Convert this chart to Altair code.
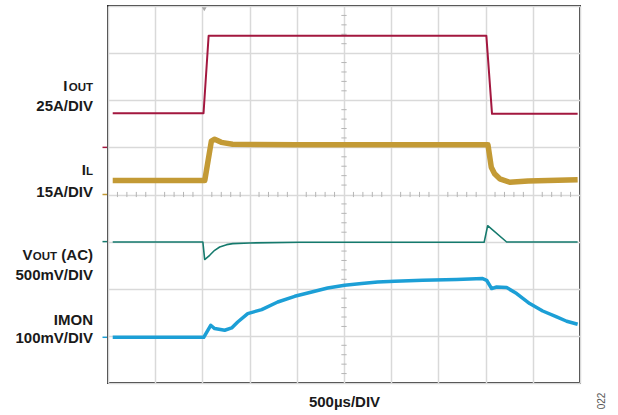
import altair as alt
import pandas as pd

FONT = "Liberation Sans"
INK = "#1a1a1a"

# Time axis: 500 µs per division, 10 divisions; vertical: 8 divisions
US_PER_DIV = 500
N_XDIV, N_YDIV = 10, 8

# I_OUT in A (25 A/div, ground marker at division 5)
iout_t = [50, 1012, 1066, 4008, 4068, 4975]
iout_v = [18.1, 18.1, 59.2, 59.2, 17.8, 17.8]

# I_L in A (15 A/div, ground marker at division 4)
il_t = [50, 1025, 1095, 1130, 1200, 1320, 2000, 4025, 4060, 4095, 4150, 4255, 4450, 4975]
il_v = [4.45, 4.45, 17.0, 17.6, 16.6, 16.0, 15.8, 15.8, 8.7, 6.6, 5.0, 3.9, 4.3, 4.7]

# V_OUT, AC coupled, in mV (500 mV/div, ground marker at division 3)
vout_t = [50, 1005, 1024, 1077, 1130, 1183, 1257, 1321, 1501, 2031, 3985, 4022, 4223, 4975]
vout_v = [-4, -4, -190, -145, -92, -57, -32, -21, -14, -7, -6, 169, -4, -4]

# IMON in mV (100 mV/div, ground marker at division 0.97)
imon_t = [50, 1014, 1088, 1130, 1236, 1310, 1374, 1480, 1628, 1798, 1978, 2158, 2327, 2507,
          2687, 2857, 3037, 3334, 3694, 3969, 4011, 4064, 4117, 4223, 4329, 4467, 4605, 4753,
          4859, 4975]
imon_v = [0, 0, 25.5, 18.5, 14.9, 19.8, 32.5, 50.3, 58.8, 74.9, 87.0, 96.2, 104.6, 110.4,
          114.0, 117.4, 118.9, 121.0, 122.5, 124.6, 121.0, 103.4, 106.8, 105.5, 92.8, 71.5,
          55.8, 43.1, 34.0, 27.6]

# name, times, values, units per division, ground division, colour, stroke width
traces = [
    ("IOUT", iout_t, iout_v, 25, 5.0, "#a3173f", 2.0),
    ("IL", il_t, il_v, 15, 4.0, "#c39a35", 5.5),
    ("VOUT", vout_t, vout_v, 500, 3.0, "#157a6d", 1.6),
    ("IMON", imon_t, imon_v, 100, 0.97, "#1c9fd6", 3.5),
]

trigger_us = 1020

xs = alt.Scale(domain=[0, US_PER_DIV * N_XDIV], nice=False, zero=False)
ys = alt.Scale(domain=[0, N_YDIV], nice=False, zero=False)
xaxis = alt.Axis(values=list(range(0, US_PER_DIV * N_XDIV + 1, US_PER_DIV)), grid=True,
                 labels=False, ticks=False, domain=False, title="500µs/DIV",
                 titleFont=FONT, titleFontSize=15, titleFontWeight="bold",
                 titleColor=INK, titlePadding=11)
yaxis = alt.Axis(values=list(range(0, N_YDIV + 1)), grid=True, labels=False, ticks=False,
                 domain=False, title=None)


def X(field):
    return alt.X(field, scale=xs, axis=xaxis)


def Y(field):
    return alt.Y(field, scale=ys, axis=yaxis)


layers = []

# Minor graticule ticks along the centre lines
hticks = pd.DataFrame({"t": [t for t in range(100, 5000, 100) if t % 500]})
hticks["y1"], hticks["y2"] = 4 - 0.055, 4 + 0.055
layers.append(alt.Chart(hticks).mark_rule(color="#b5b5b5", strokeWidth=1).encode(
    x=X("t:Q"), y=Y("y1:Q"), y2="y2:Q"))
vticks = pd.DataFrame({"d": [i / 5 for i in range(1, 40) if i % 5]})
vticks["x1"], vticks["x2"] = 2500 - 28, 2500 + 28
layers.append(alt.Chart(vticks).mark_rule(color="#b5b5b5", strokeWidth=1).encode(
    y=Y("d:Q"), x=X("x1:Q"), x2="x2:Q"))

# Waveforms
for name, t, v, per_div, ground, color, width in traces:
    df = pd.DataFrame({"t": t, "v": v})
    df["div"] = ground + df["v"] / per_div
    layers.append(alt.Chart(df).mark_line(color=color, strokeWidth=width,
                                          strokeJoin="round").encode(
        x=X("t:Q"), y=Y("div:Q")))

# Ground reference markers at the left edge
for name, t, v, per_div, ground, color, width in traces:
    layers.append(alt.Chart(pd.DataFrame({"g": [ground]})).mark_rule(
        color=color, strokeWidth=1.5).encode(
        x=alt.value(-5.5), x2=alt.value(-1), y=Y("g:Q")))

# Trigger position marker
layers.append(alt.Chart(pd.DataFrame({"t": [trigger_us], "d": [7.93]})).mark_point(
    shape="triangle-down", filled=True, size=22, color="#a8a8a8", opacity=1).encode(
    x=X("t:Q"), y=Y("d:Q")))

# Channel labels: (text, right edge x, baseline y, font size)
labels = [
    ("I", -40.5, 85, 15), ("OUT", -15, 85, 11.5), ("25A/DIV", -15, 105, 15),
    ("I", -22, 168.5, 15), ("L", -15, 168.5, 11.5), ("15A/DIV", -15, 191, 15),
    ("V", -75.5, 254, 15), ("OUT", -51, 254, 11.5), ("(AC)", -15, 254, 15),
    ("500mV/DIV", -15, 274, 15),
    ("IMON", -15, 319, 15), ("100mV/DIV", -15, 337, 15),
]
for text, px, py, size in labels:
    layers.append(alt.Chart(pd.DataFrame({"a": [0]})).mark_text(
        text=text, align="right", baseline="alphabetic", font=FONT, fontWeight="bold",
        fontSize=size, color=INK).encode(x=alt.value(px), y=alt.value(py)))

# Figure number
layers.append(alt.Chart(pd.DataFrame({"a": [0]})).mark_text(
    text="022", angle=270, align="center", baseline="middle", font=FONT,
    fontSize=10, color="#555555").encode(x=alt.value(494), y=alt.value(395)))

chart = alt.layer(*layers).properties(
    width=472, height=377,
    autosize=alt.AutoSizeParams(type="none"),
    padding={"left": 108, "top": 6, "right": 38, "bottom": 32},
).configure_axis(
    gridColor="#d9d9d9", gridWidth=1.5
).configure_view(
    stroke="#2e2e2e", strokeWidth=2
)

chart.save("out.html", embed_options={"renderer": "svg", "actions": False})
